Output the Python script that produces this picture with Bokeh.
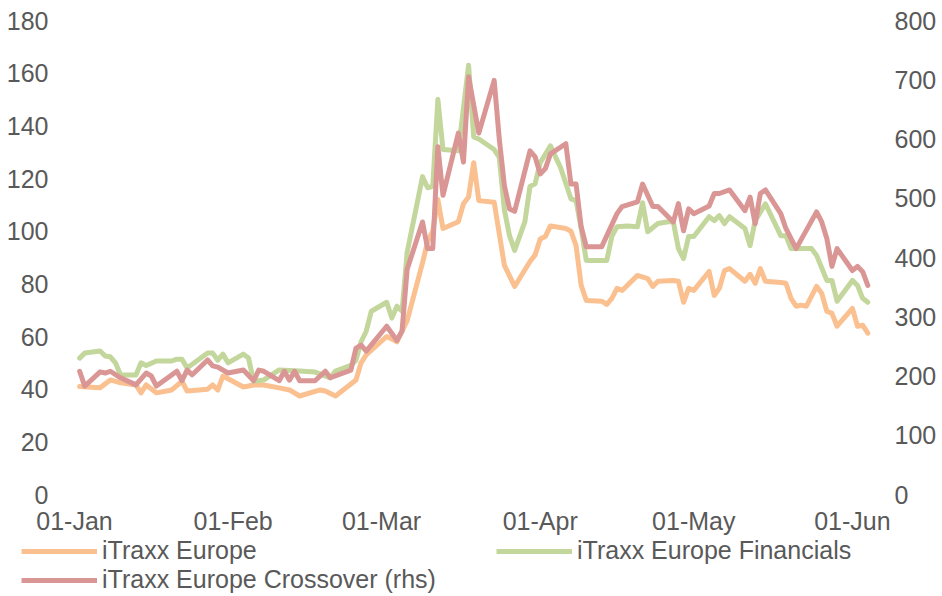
from datetime import datetime, timedelta
import pandas as pd
from bokeh.plotting import figure
from bokeh.layouts import column
from bokeh.models import (Range1d, LinearAxis, FixedTicker, DatetimeTickFormatter,
                          Legend, LegendItem)
from bokeh.embed import file_html
from bokeh.resources import INLINE

# ---------------- data ----------------
eu_dates = ["2020-01-02","2020-01-06","2020-01-08","2020-01-10","2020-01-13","2020-01-14","2020-01-15",
            "2020-01-17","2020-01-20","2020-01-22","2020-01-23","2020-01-27","2020-01-28","2020-01-29",
            "2020-01-30","2020-02-03","2020-02-05","2020-02-07","2020-02-10","2020-02-12","2020-02-14",
            "2020-02-18","2020-02-19","2020-02-21","2020-02-25","2020-02-26","2020-02-27","2020-03-02",
            "2020-03-03","2020-03-04","2020-03-05","2020-03-06","2020-03-09","2020-03-10","2020-03-11",
            "2020-03-12","2020-03-13","2020-03-16","2020-03-17","2020-03-18","2020-03-19","2020-03-20",
            "2020-03-23","2020-03-25","2020-03-27","2020-03-30","2020-03-31","2020-04-01","2020-04-02",
            "2020-04-03","2020-04-06","2020-04-07","2020-04-08","2020-04-09","2020-04-10","2020-04-13",
            "2020-04-14","2020-04-15","2020-04-16","2020-04-17","2020-04-20","2020-04-22","2020-04-23",
            "2020-04-24","2020-04-27","2020-04-28","2020-04-29","2020-04-30","2020-05-01","2020-05-04",
            "2020-05-05","2020-05-06","2020-05-07","2020-05-08","2020-05-11","2020-05-12","2020-05-13",
            "2020-05-14","2020-05-15","2020-05-18","2020-05-19","2020-05-20","2020-05-21","2020-05-22",
            "2020-05-23","2020-05-25","2020-05-26","2020-05-27","2020-05-28","2020-05-29","2020-06-01",
            "2020-06-02","2020-06-03","2020-06-04"]
eu_vals = [41,40.5,43.5,42.4,41.6,38.6,41.6,
           38.6,39.7,43,39.3,40,41.6,39.7,
           45,40.8,41.6,41.6,40.5,39.7,37.4,
           39.7,39.3,37.4,43.5,50,53,60,
           59,58,62,66,88,96,100,
           112,101,103.6,110.4,113,126,111.6,
           111,87,79,88.5,91,97,98,
           102,101,100,94.5,79.4,73.7,73.4,
           72.2,74.5,78.3,77.5,83.2,82,79,
           81,81.3,81,73,78.3,77.5,84.7,
           75.6,78.3,85,85.8,81,83.6,80.2,
           85.8,81,80.5,80.2,74.5,71.5,71.9,
           71.5,79,76.4,69.6,68.8,63.9,70.7,
           63.9,64.3,61.3]

fin_dates = ["2020-01-02","2020-01-03","2020-01-06","2020-01-07","2020-01-08","2020-01-09","2020-01-10",
             "2020-01-13","2020-01-14","2020-01-15","2020-01-17","2020-01-20","2020-01-21","2020-01-22",
             "2020-01-23","2020-01-27","2020-01-28","2020-01-29","2020-01-30","2020-01-31","2020-02-03",
             "2020-02-04","2020-02-05","2020-02-07","2020-02-10","2020-02-14","2020-02-17","2020-02-20",
             "2020-02-21","2020-02-24","2020-02-25","2020-02-26","2020-02-27","2020-02-28","2020-03-02",
             "2020-03-03","2020-03-04","2020-03-05","2020-03-06","2020-03-09","2020-03-10","2020-03-11",
             "2020-03-12","2020-03-13","2020-03-16","2020-03-18","2020-03-19","2020-03-20","2020-03-23",
             "2020-03-24","2020-03-25","2020-03-26","2020-03-27","2020-03-29","2020-03-30","2020-03-31",
             "2020-04-01","2020-04-03","2020-04-05","2020-04-07","2020-04-08","2020-04-09","2020-04-10",
             "2020-04-14","2020-04-15","2020-04-16","2020-04-18","2020-04-20","2020-04-21","2020-04-22",
             "2020-04-24","2020-04-26","2020-04-27","2020-04-28","2020-04-29","2020-04-30","2020-05-01",
             "2020-05-04","2020-05-05","2020-05-06","2020-05-07","2020-05-08","2020-05-11","2020-05-12",
             "2020-05-13","2020-05-15","2020-05-18","2020-05-19","2020-05-20","2020-05-24","2020-05-25",
             "2020-05-27","2020-05-28","2020-05-29","2020-06-01","2020-06-02","2020-06-03","2020-06-04"]
fin_vals = [51.8,53.7,54.5,52.6,52.3,50,45.4,
            45.4,50,49,50.7,50.7,51.4,51.4,
            48,53.7,53.7,51,53.3,50,53.3,
            51.8,43,43.5,47.3,46.9,46.5,44.3,
            46.9,49,51,58,62,69.6,73,
            67,71.5,69.6,92,120.7,116.5,117,
            150,131,130.5,163,135.8,135,131,
            128,108,98.3,92.7,103.6,117,118,
            126,132.4,124,112.3,111.6,101,88.9,
            88.9,98,101.7,102,101.7,110.8,99.8,
            102.9,103.6,103.6,93.4,89.6,98,98,
            105.5,104,105.9,102.9,105.5,101,94.5,
            104,110.4,98.3,98.3,93.4,93.4,90.8,
            81.3,81.3,73.4,81.3,79.4,74.5,73]

xo_dates = ["2020-01-02","2020-01-03","2020-01-06","2020-01-07","2020-01-08","2020-01-10","2020-01-13",
            "2020-01-15","2020-01-16","2020-01-17","2020-01-21","2020-01-22","2020-01-23","2020-01-24",
            "2020-01-27","2020-01-28","2020-01-29","2020-01-31","2020-02-03","2020-02-05","2020-02-06",
            "2020-02-07","2020-02-10","2020-02-11","2020-02-12","2020-02-13","2020-02-14","2020-02-17",
            "2020-02-19","2020-02-20","2020-02-24","2020-02-25","2020-02-26","2020-02-27","2020-03-02",
            "2020-03-04","2020-03-05","2020-03-06","2020-03-09","2020-03-10","2020-03-11","2020-03-12",
            "2020-03-13","2020-03-16","2020-03-17","2020-03-18","2020-03-20","2020-03-23","2020-03-24",
            "2020-03-25","2020-03-26","2020-03-27","2020-03-30","2020-03-31","2020-04-01","2020-04-02",
            "2020-04-03","2020-04-06","2020-04-07","2020-04-08","2020-04-09","2020-04-10","2020-04-13",
            "2020-04-16","2020-04-17","2020-04-20","2020-04-21","2020-04-23","2020-04-24","2020-04-27",
            "2020-04-28","2020-04-29","2020-04-30","2020-05-01","2020-05-04","2020-05-05","2020-05-06",
            "2020-05-08","2020-05-11","2020-05-12","2020-05-13","2020-05-14","2020-05-15","2020-05-18",
            "2020-05-19","2020-05-21","2020-05-25","2020-05-26","2020-05-27","2020-05-28","2020-05-29",
            "2020-06-01","2020-06-02","2020-06-03","2020-06-04"]
xo_vals = [208,183,207,205,208,197,185,
           205,200,183,208,192,210,202,
           227,217,215,205,210,192,210,
           208,192,208,193,208,192,192,
           208,197,210,247,252,242,284,
           260,276,380,460,415,415,587,
           505,610,561,705,610,699,600,
           521,482,478,580,570,541,550,
           575,592,524,524,452,418,418,
           474,486,494,524,486,486,460,
           491,445,482,474,487,508,508,
           514,479,502,457,508,514,474,
           449,415,477,460,432,385,415,
           378,385,376,353]

x_tick_dates = ["2020-01-01", "2020-02-01", "2020-03-01", "2020-04-01", "2020-05-01", "2020-06-01"]
left_ticks = [0, 20, 40, 60, 80, 100, 120, 140, 160, 180]
right_ticks = [0, 100, 200, 300, 400, 500, 600, 700, 800]
names = ["iTraxx Europe", "iTraxx Europe Financials", "iTraxx Europe Crossover (rhs)"]
colors = ["#FAC090", "#C3D69B", "#D99694"]

# ---------------- main figure ----------------
FONT = "Liberation Sans"
TXT = "#595959"
FS = "25px"
LW = 5
W = 940

x_start = datetime(2020, 1, 1)
x_end = x_start + timedelta(days=156.9)

p = figure(width=W, height=537, output_backend="svg", toolbar_location=None,
           x_axis_type="datetime",
           x_range=Range1d(x_start, x_end), y_range=Range1d(0, 180),
           min_border_left=74, min_border_right=63, min_border_top=20, min_border_bottom=41)
p.outline_line_color = None
p.xgrid.visible = False
p.ygrid.visible = False
p.frame_align = False

p.extra_y_ranges = {"rhs": Range1d(0, 800)}
raxis = LinearAxis(y_range_name="rhs")
p.add_layout(raxis, "right")

def ms(ds):
    return [(pd.Timestamp(d) - pd.Timestamp("1970-01-01")).total_seconds() * 1000 for d in ds]

p.xaxis.ticker = FixedTicker(ticks=ms(x_tick_dates))
fmt = "%d-%b"
p.xaxis.formatter = DatetimeTickFormatter(milliseconds=fmt, seconds=fmt, minsec=fmt, minutes=fmt,
                                          hourmin=fmt, hours=fmt, days=fmt, months=fmt, years=fmt)
p.yaxis[0].ticker = FixedTicker(ticks=left_ticks)
raxis.ticker = FixedTicker(ticks=right_ticks)

for ax in [p.xaxis[0], p.yaxis[0], raxis]:
    ax.axis_line_color = None
    ax.major_tick_line_color = None
    ax.minor_tick_line_color = None
    ax.major_tick_out = 0
    ax.minor_tick_out = 0
    ax.major_label_text_font = FONT
    ax.major_label_text_font_size = FS
    ax.major_label_text_color = TXT
p.xaxis[0].major_label_standoff = 12
p.yaxis[0].major_label_standoff = 26
raxis.major_label_standoff = 17

p.line(pd.to_datetime(eu_dates), eu_vals, line_color=colors[0], line_width=LW,
       line_join="round", line_cap="round")
p.line(pd.to_datetime(fin_dates), fin_vals, line_color=colors[1], line_width=LW,
       line_join="round", line_cap="round")
p.line(pd.to_datetime(xo_dates), xo_vals, line_color=colors[2], line_width=LW,
       line_join="round", line_cap="round", y_range_name="rhs")

# ---------------- legend strip ----------------
LH = 57
pl = figure(width=W, height=LH, output_backend="svg", toolbar_location=None,
            x_range=Range1d(0, W), y_range=Range1d(0, LH),
            min_border=0, x_axis_location=None, y_axis_location=None)
pl.outline_line_color = None
pl.xgrid.visible = False
pl.ygrid.visible = False
pl.frame_align = False
# swatch renderers kept outside the visible range; they only feed the legend
d = [pl.line([-20, -10], [-20, -20], line_color=c, line_width=LW) for c in colors]

def mk_legend(items, loc):
    return Legend(items=items, orientation="horizontal", location=loc,
                  glyph_width=76, glyph_height=20, label_standoff=5, label_width=394,
                  label_height=20, spacing=0, padding=0, margin=0,
                  label_text_font=FONT, label_text_font_size=FS, label_text_color=TXT,
                  border_line_color=None, background_fill_alpha=0)

leg1 = mk_legend([LegendItem(label=names[0], renderers=[d[0]]),
                  LegendItem(label=names[1], renderers=[d[1]])], (21, 29))
leg2 = mk_legend([LegendItem(label=names[2], renderers=[d[2]])], (21, 0))
pl.add_layout(leg1)
pl.add_layout(leg2)

open("out.html", "w").write(file_html(column(p, pl, spacing=0), INLINE))
